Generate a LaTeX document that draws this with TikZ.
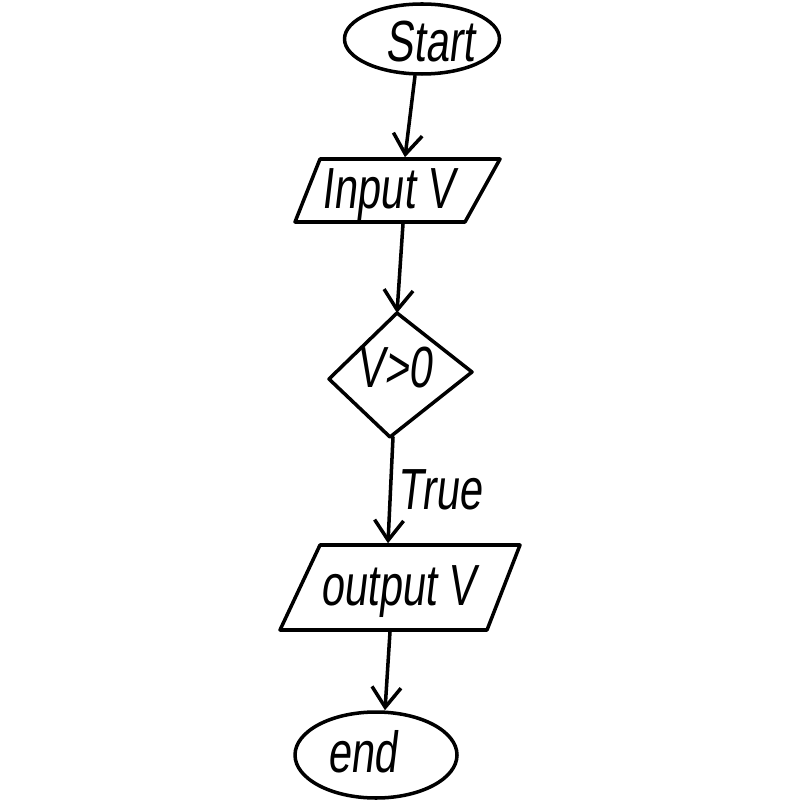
\documentclass[tikz,border=0pt]{standalone}
\usepackage{fontspec}
\usetikzlibrary{arrows.meta,calc,shapes.geometric}
\newfontfamily\handfont[FakeSlant=0.12,FakeStretch=0.72]{Liberation Sans}
\begin{document}
\begin{tikzpicture}[
  line width=1pt, line join=round, line cap=round,
  label text/.style={font=\handfont\fontsize{16.5}{18}\selectfont, inner sep=0pt},
  terminal/.style={draw, ellipse, inner sep=0pt},
  flowline/.style={-{Straight Barb[length=2mm,width=2.9mm,line width=1pt]}}
]
\useasboundingbox (0,0) rectangle (8,-8);

% start terminal
\node[terminal, minimum width=1.55cm, minimum height=0.70cm] (start) at (4.22,-0.39) {};
\node[label text] (starttxt) at (4.30,-0.42) {Start};

% input block
\node[inner sep=0pt, minimum width=1.75cm, minimum height=0.63cm] (in) at (3.95,-1.905) {};
\draw ($(in.center)+(-0.75,0.315)$) -- ($(in.center)+(1.05,0.315)$)
   -- ($(in.center)+(0.70,-0.315)$) -- ($(in.center)+(-1.00,-0.315)$) -- cycle;
\node[label text] (intxt) at (3.88,-1.95) {Input V};

% decision
\node[inner sep=0pt] (dec) at (4.00,-3.75) {};
\coordinate (decT) at ($(dec)+(-0.03,0.62)$);
\coordinate (decR) at ($(dec)+(0.72,0.03)$);
\coordinate (decB) at ($(dec)+(-0.10,-0.62)$);
\coordinate (decL) at ($(dec)+(-0.71,-0.04)$);
\draw (decT) -- (decR) -- (decB) -- (decL) -- cycle;
\node[label text] (dectxt) at (3.94,-3.68) {V>0};

% output block
\node[inner sep=0pt, minimum width=2.00cm, minimum height=0.85cm] (out) at (4.02,-5.875) {};
\draw ($(out.center)+(-0.82,0.425)$) -- ($(out.center)+(1.18,0.425)$)
   -- ($(out.center)+(0.85,-0.425)$) -- ($(out.center)+(-1.22,-0.425)$) -- cycle;
\node[label text] (outtxt) at (3.98,-5.92) {output V};

% end terminal
\node[terminal, minimum width=1.62cm, minimum height=0.86cm] (end) at (3.76,-7.55) {};
\node[label text] (endtxt) at (3.62,-7.52) {end};

% connectors
\draw[flowline] ([xshift=-0.07cm]start.south) -- ([xshift=0.10cm]in.north);
\draw[flowline] ([xshift=0.08cm]in.south) -- (decT);
\draw[flowline] ([xshift=0.03cm]decB) -- ([xshift=-0.14cm]out.north);
\draw[flowline] ([xshift=-0.12cm]out.south) -- ([xshift=0.09cm]end.north);

\node[label text] (truelbl) at (4.40,-4.90) {True};
\end{tikzpicture}
\end{document}
